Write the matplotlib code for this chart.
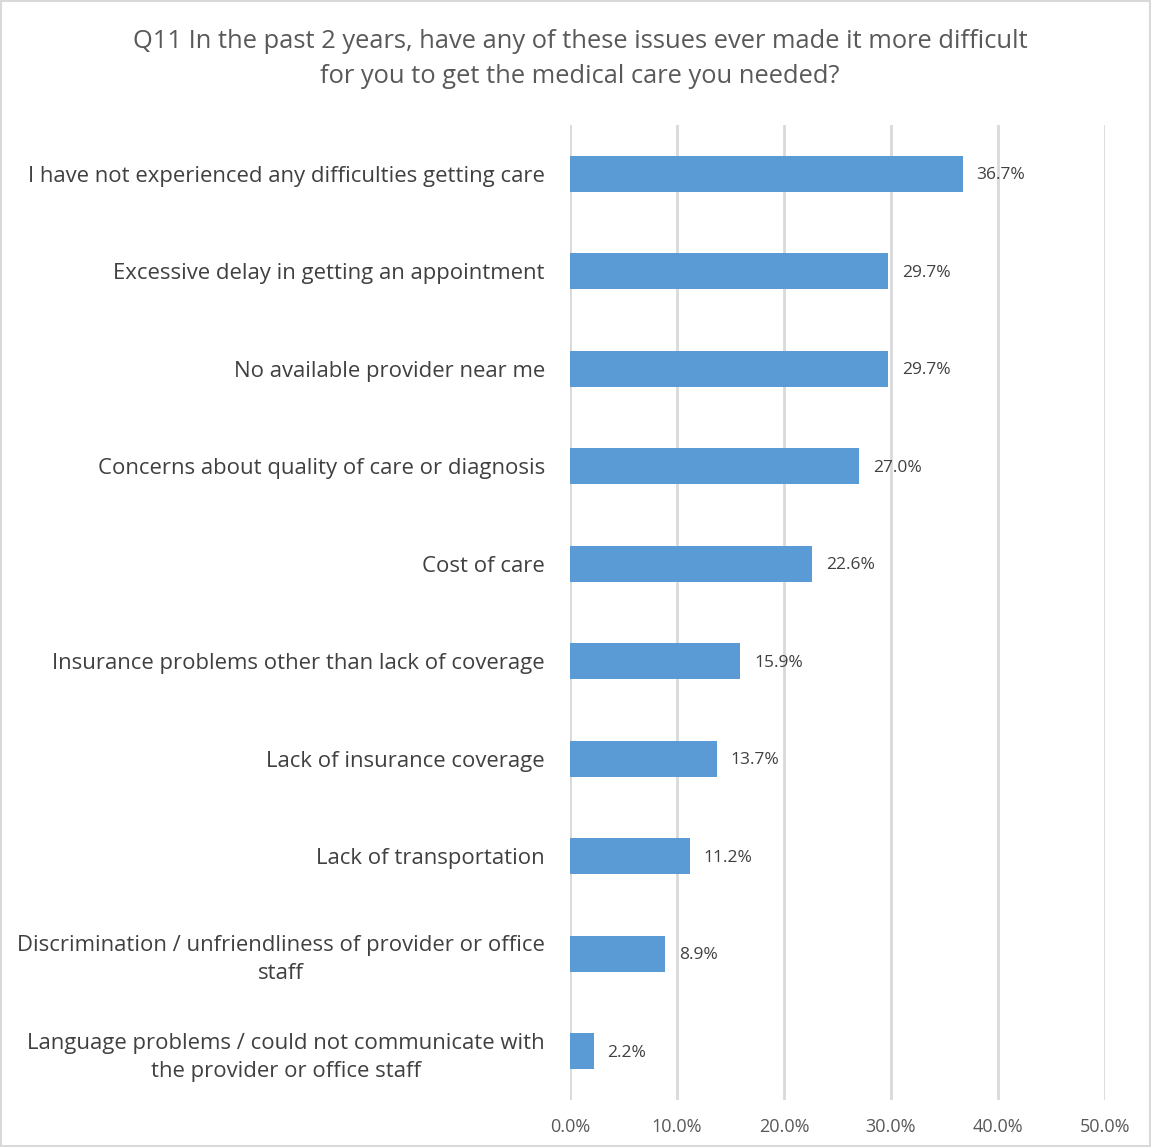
import matplotlib.pyplot as plt
from matplotlib.patches import Rectangle

plt.rcParams['font.family'] = ['Open Sans', 'DejaVu Sans']

categories = [
    'I have not experienced any difficulties getting care',
    'Excessive delay in getting an appointment',
    'No available provider near me',
    'Concerns about quality of care or diagnosis',
    'Cost of care',
    'Insurance problems other than lack of coverage',
    'Lack of insurance coverage',
    'Lack of transportation',
    'Discrimination / unfriendliness of provider or office\nstaff',
    'Language problems / could not communicate with\nthe provider or office staff',
]
values = [36.7, 29.7, 29.7, 27.0, 22.6, 15.9, 13.7, 11.2, 8.9, 2.2]
xticks = [0, 10, 20, 30, 40, 50]
title = ('Q11 In the past 2 years, have any of these issues ever made it more difficult\n'
         'for you to get the medical care you needed?')

bar_color = '#5B9BD5'
grid_color = '#D9D9D9'
text_color = '#595959'

fig = plt.figure(figsize=[11.51, 11.47], dpi=100)
ax = fig.add_axes([0.4952, 0.041, 0.4648, 0.850])

pos = list(range(len(categories)))
ax.barh(pos, values, height=0.37, color=bar_color, zorder=3)
for y, v in zip(pos, values):
    ax.annotate(f'{v:.1f}%', xy=(v, y), xytext=(10, -1),
                textcoords='offset points', va='center', ha='left',
                fontsize=12.5, color='#404040', zorder=4)

ax.set_xlim(0, 50)
ax.set_ylim(len(categories) - 0.5, -0.5)
ax.set_xticks(xticks)
ax.set_xticklabels([f'{t:.1f}%' for t in xticks])
ax.set_yticks(pos)
ax.set_yticklabels(categories, ha='right', multialignment='center',
                   linespacing=1.45)
ax.tick_params(axis='y', length=0, pad=18, labelsize=15.9, colors='#404040')
ax.tick_params(axis='x', length=0, pad=13, labelsize=13, colors=text_color)
ax.xaxis.grid(True, color=grid_color, linewidth=2, zorder=0)
for s in ax.spines.values():
    s.set_visible(False)

fig.text(0.504, 0.9486, title, ha='center', va='center', fontsize=18.4,
         color=text_color, linespacing=1.48)

# thin frame around the whole chart
fig.patches.append(Rectangle((0.001, 0.001), 0.998, 0.998, transform=fig.transFigure,
                             fill=False, edgecolor=grid_color, linewidth=1.5))

fig.savefig('out.png', dpi=100)
plt.close(fig)
